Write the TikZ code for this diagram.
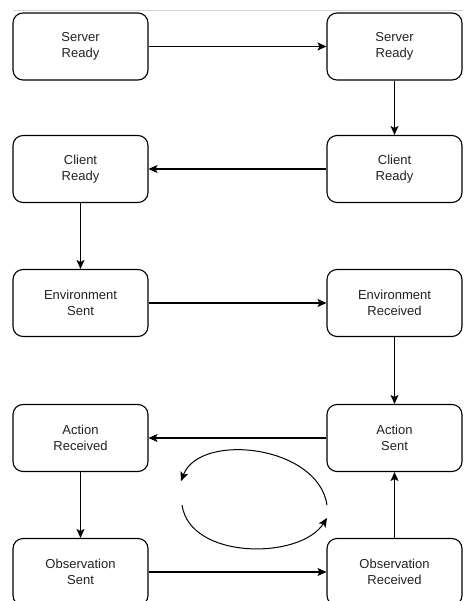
\documentclass[tikz,border=0pt]{standalone}
\usepackage{fontspec}
\setmainfont{Liberation Sans}
\usetikzlibrary{arrows.meta}
\definecolor{txt}{HTML}{222222}
\definecolor{sep}{HTML}{D4D4D4}
\tikzset{
  state/.style={draw=black, line width=1.1pt, rounded corners=10pt, minimum width=135pt, minimum height=67pt, inner sep=0pt, align=center, font=\fontsize{13}{15.5}\selectfont, text=txt, fill=white},
  conn/.style={draw=black, line width=1.1pt, -{Stealth[length=9pt,width=8pt,inset=2pt]}},
}
\begin{document}
\begin{tikzpicture}[x=1pt,y=-1pt]
\useasboundingbox (0,0) rectangle (463,601);
\clip (0,0) rectangle (463,601);
\fill[white] (0,0) rectangle (463,601);
\coordinate (sepA) at (13,11);
\coordinate (sepB) at (463,11);
\draw[sep, line width=1pt] (sepA) -- (sepB);
\node[state] (sr1) at (80.5,46.5) {Server\\Ready};
\node[state] (sr2) at (394.5,46.5) {Server\\Ready};
\node[state] (cr2) at (394.5,169) {Client\\Ready};
\node[state] (cr1) at (80.5,169) {Client\\Ready};
\node[state] (es) at (80.5,303) {Environment\\Sent};
\node[state] (er) at (394.5,303) {Environment\\Received};
\node[state] (as) at (394.5,438) {Action\\Sent};
\node[state] (ar) at (80.5,438) {Action\\Received};
\node[state] (os) at (80.5,572) {Observation\\Sent};
\node[state] (or) at (394.5,572) {Observation\\Received};
\draw[conn] (sr1) -- (sr2);
\draw[conn] (sr2) -- (cr2);
\draw[conn] (cr2) -- (cr1);
\draw[conn] (cr1) -- (es);
\draw[conn] (es) -- (er);
\draw[conn] (er) -- (as);
\draw[conn] (as) -- (ar);
\draw[conn] (ar) -- (os);
\draw[conn] (os) -- (or);
\draw[conn] (or) -- (as);
\coordinate (c1s) at (327,505);
\coordinate (c1e) at (181,481);
\coordinate (c2s) at (182,505);
\coordinate (c2e) at (327,518);
\draw[conn, line width=1pt] (c1s) .. controls (318,445) and (200,432) .. (c1e);
\draw[conn, line width=1pt] (c2s) .. controls (190,560) and (300,560) .. (c2e);
\end{tikzpicture}
\end{document}
